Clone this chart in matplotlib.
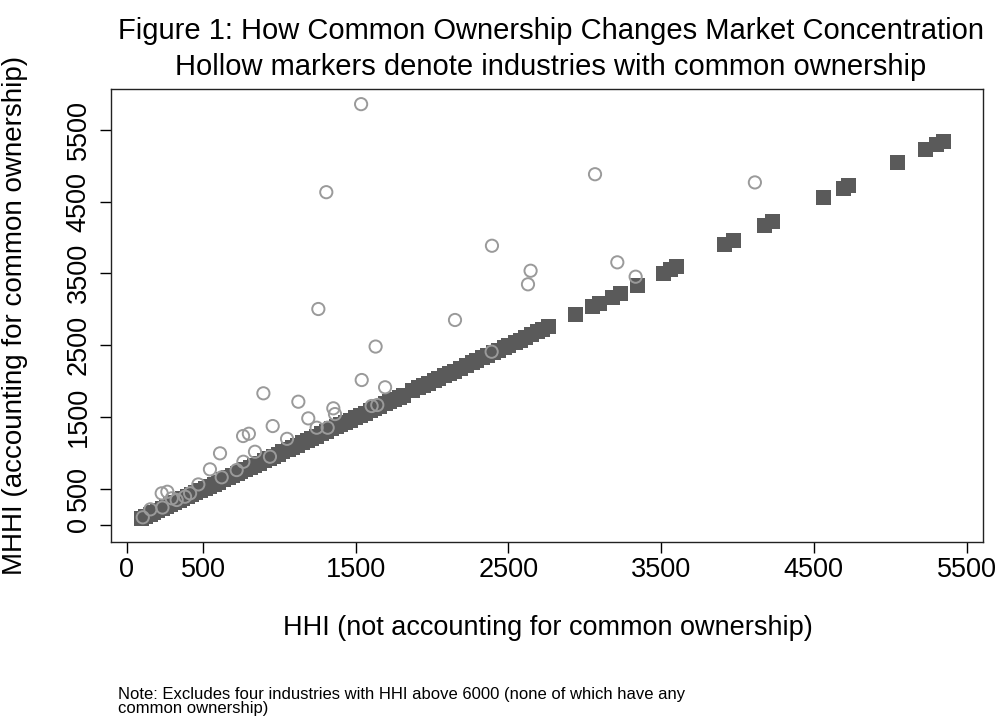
import matplotlib
matplotlib.use("Agg")
import matplotlib.pyplot as plt

plt.rcParams['font.family'] = ['Liberation Sans', 'DejaVu Sans']

# Industries without common ownership: MHHI equals HHI
plain_hhi = [95, 120, 150, 175, 200, 230, 255, 285, 310, 340, 365, 395, 420, 450,
             480, 510, 540, 570, 600, 630, 660, 690, 720, 745, 775, 805, 835, 865,
             900, 930, 960, 990, 1020, 1055, 1085, 1115, 1150, 1180, 1210, 1240,
             1275, 1305, 1340, 1370, 1400, 1430, 1460, 1495, 1525, 1560, 1590,
             1620, 1655, 1690, 1720, 1750, 1780, 1810, 1870, 1910, 1940, 1975,
             2010, 2040, 2080, 2110, 2145, 2180, 2220, 2260, 2290, 2330, 2360,
             2400, 2430, 2470, 2500, 2540, 2575, 2610, 2650, 2690, 2720, 2760,
             2935, 3045, 3090, 3175, 3230, 3340, 3510, 3560, 3600, 3910, 3970,
             4175, 4225, 4560, 4690, 4725, 5045, 5230, 5300, 5345]
plain_mhhi = list(plain_hhi)

# Industries with common ownership
common_hhi = [105, 155, 234, 229, 266, 295, 327, 382, 415, 469, 545, 611, 622, 720,
              764, 762, 800, 840, 895, 938, 956, 1050, 1124, 1189, 1244, 1255,
              1307, 1316, 1353, 1364, 1535, 1539, 1604, 1641, 1630, 1692, 2150,
              2390, 2392, 2628, 2645, 3067, 3213, 3333, 4114]
common_mhhi = [102, 213, 238, 436, 458, 366, 343, 389, 436, 560, 770, 993, 659, 760,
               876, 1234, 1266, 1015, 1829, 946, 1373, 1195, 1712, 1480, 1350, 3003,
               4630, 1350, 1620, 1540, 5856, 2014, 1652, 1666, 2480, 1913, 2850,
               2408, 3884, 3347, 3536, 4880, 3653, 3453, 4766]

ticks = [0, 500, 1500, 2500, 3500, 4500, 5500]

fig = plt.figure(figsize=(10, 7.16), dpi=100)
ax = fig.add_axes([0.111, 0.2434, 0.872, 0.6323])

ax.scatter(plain_hhi, plain_mhhi, marker='s', s=10.8 ** 2, color='#5a5a5a',
           linewidths=0, zorder=2)
ax.scatter(common_hhi, common_mhhi, marker='o', s=8.8 ** 2, facecolors='none',
           edgecolors='#9a9a9a', linewidths=1.4, zorder=3)

ax.set_xlim(-103, 5608)
ax.set_ylim(-238, 6067)
ax.set_xticks(ticks)
ax.set_xticklabels([str(t) for t in ticks], fontsize=19.5)
ax.set_yticks(ticks)
ax.set_yticklabels([str(t) for t in ticks], fontsize=19.5, rotation=90, va='center')
ax.tick_params(axis='x', length=8, width=1, pad=3)
ax.tick_params(axis='y', length=8, width=1, pad=6)
for sp in ax.spines.values():
    sp.set_linewidth(1.0)
    sp.set_color('#222222')

fig.text(0.551, 0.9567, 'Figure 1: How Common Ownership Changes Market Concentration',
         fontsize=21, ha='center', va='center')
fig.text(0.551, 0.906, 'Hollow markers denote industries with common ownership',
         fontsize=21, ha='center', va='center')
fig.text(0.548, 0.1229, 'HHI (not accounting for common ownership)',
         fontsize=19.5, ha='center', va='center')
fig.text(0.015, 0.56, 'MHHI (accounting for common ownership)',
         fontsize=20, ha='center', va='center', rotation=90)
fig.text(0.118, 0.0405, 'Note: Excludes four industries with HHI above 6000 (none of which have any\ncommon ownership)',
         fontsize=12, ha='left', va='top', linespacing=0.95)

fig.savefig('out.png', dpi=100, facecolor='white')
